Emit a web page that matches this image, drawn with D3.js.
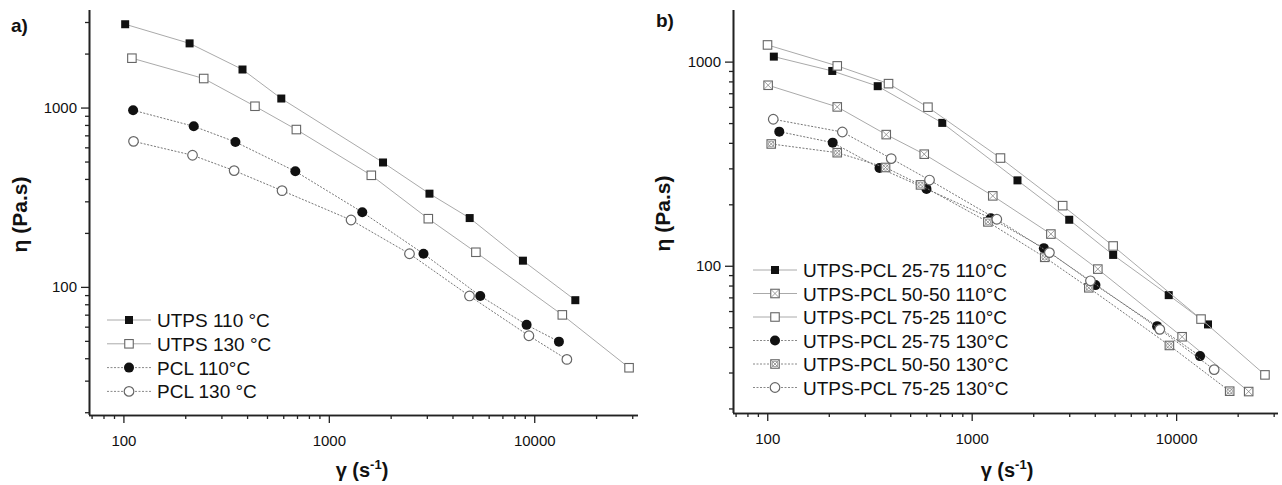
<!DOCTYPE html>
<html>
<head>
<meta charset="utf-8">
<script src="https://cdn.jsdelivr.net/npm/d3@7"></script>
<style>
  body { margin: 0; background: #fff; }
  text { font-family: 'Liberation Sans', Arial, sans-serif; fill: #111; }
</style>
</head>
<body>
<script>
// panel a - shear rate (1/s) and viscosity (Pa.s)
const utps110X = [102, 210, 380, 587, 1836, 3090, 4850, 8810, 15850]
const utps110Y = [2915, 2280, 1630, 1123, 494, 331, 242, 140, 84.3]
const utps130X = [110, 246, 437, 695, 1610, 3050, 5200, 13700, 28950]
const utps130Y = [1885, 1452, 1017, 754, 419, 240, 156, 69.8, 35.4]
const pcl110X = [111.5, 220, 351, 687, 1455, 2890, 5460, 9180, 13190]
const pcl110Y = [966, 786, 643, 441, 261, 153, 89, 61.4, 49.5]
const pcl130X = [112, 217, 346, 592, 1283, 2470, 4840, 9420, 14420]
const pcl130Y = [648, 542, 445, 344, 236, 153, 89, 53.4, 39.4]

// panel b - blends
const b2575_110X = [107.7, 208, 347, 718, 1675, 3000, 4920, 9200, 14320]
const b2575_110Y = [1058, 900, 758, 501, 262, 168, 113, 71.8, 51.6]
const b5050_110X = [101, 220, 382, 586, 1268, 2440, 4140, 10700, 22640]
const b5050_110Y = [766, 600, 439, 352, 220, 143, 96.3, 44.9, 24.2]
const b7525_110X = [100.3, 220, 392, 611, 1383, 2787, 4920, 13240, 27200]
const b7525_110Y = [1207, 953, 780, 598, 337, 197, 125, 54.8, 29.2]
const b2575_130X = [114.5, 209, 354, 601, 1240, 2254, 4030, 8070, 13090]
const b2575_130Y = [454, 401, 301, 238, 171, 122, 80.4, 50.6, 36.1]
const b5050_130X = [104.6, 220, 379, 562, 1200, 2277, 3740, 9270, 18280]
const b5050_130Y = [395, 358, 303, 249, 164, 110, 78, 40.7, 24.3]
const b7525_130X = [107, 233, 404, 622, 1327, 2400, 3810, 8320, 15350]
const b7525_130Y = [522, 452, 335, 263, 169, 116, 84.4, 48.8, 31]

const legendA = ['UTPS 110 °C', 'UTPS 130 °C', 'PCL 110°C', 'PCL 130 °C']
const legendB = ['UTPS-PCL 25-75 110°C', 'UTPS-PCL 50-50 110°C', 'UTPS-PCL 75-25 110°C',
  'UTPS-PCL 25-75 130°C', 'UTPS-PCL 50-50 130°C', 'UTPS-PCL 75-25 130°C']

const seriesA = [
  { x: utps110X, y: utps110Y, m: 'sqFill', dash: false },
  { x: utps130X, y: utps130Y, m: 'sqOpen', dash: false },
  { x: pcl110X, y: pcl110Y, m: 'ciFill', dash: true },
  { x: pcl130X, y: pcl130Y, m: 'ciOpen', dash: true }
]
const seriesB = [
  { x: b2575_110X, y: b2575_110Y, m: 'sqFill', dash: false },
  { x: b5050_110X, y: b5050_110Y, m: 'sqX', dash: false },
  { x: b7525_110X, y: b7525_110Y, m: 'sqOpen', dash: false },
  { x: b2575_130X, y: b2575_130Y, m: 'ciFill', dash: true },
  { x: b5050_130X, y: b5050_130Y, m: 'sqXO', dash: true },
  { x: b7525_130X, y: b7525_130Y, m: 'ciOpen', dash: true }
]

const svg = d3.select('body').append('svg')
  .attr('width', 1282)
  .attr('height', 485)

function marker (g, type, cx, cy) {
  const s = 8.5
  if (type === 'sqFill') {
    g.append('rect').attr('x', cx - 4).attr('y', cy - 4).attr('width', 8).attr('height', 8)
      .style('fill', '#111')
  } else if (type === 'sqOpen' || type === 'sqX' || type === 'sqXO') {
    g.append('rect').attr('x', cx - s / 2).attr('y', cy - s / 2).attr('width', s).attr('height', s)
      .style('fill', '#fff').style('stroke', '#666').style('stroke-width', 1.1)
    if (type !== 'sqOpen') {
      const d = s / 2 - 0.6
      g.append('path')
        .attr('d', `M${cx - d},${cy - d}L${cx + d},${cy + d}M${cx - d},${cy + d}L${cx + d},${cy - d}`)
        .style('stroke', '#777').style('stroke-width', 0.7)
    }
    if (type === 'sqXO') {
      g.append('circle').attr('cx', cx).attr('cy', cy).attr('r', 2.8)
        .style('fill', 'none').style('stroke', '#777').style('stroke-width', 0.7)
    }
  } else if (type === 'ciFill') {
    g.append('circle').attr('cx', cx).attr('cy', cy).attr('r', 5)
      .style('fill', '#111')
  } else if (type === 'ciOpen') {
    g.append('circle').attr('cx', cx).attr('cy', cy).attr('r', 4.8)
      .style('fill', '#fff').style('stroke', '#666').style('stroke-width', 1.2)
  }
}

function minorTicks (domain, majors) {
  const out = []
  for (let d = 10; d <= 100000; d *= 10) {
    for (let k = 1; k <= 9; k++) {
      const v = k * d
      if (v >= domain[0] && v <= domain[1] && !majors.includes(v)) out.push(v)
    }
  }
  return out
}

function panel (opt) {
  const g = svg.append('g')
  const x = d3.scaleLog().domain(opt.xDomain).range(opt.xRange)
  const y = d3.scaleLog().domain(opt.yDomain).range(opt.yRange)
  const x0 = opt.xRange[0]
  const y0 = opt.yRange[0]

  const xMajor = [100, 1000, 10000]
  const yMajor = opt.yMajor

  // x axis
  g.append('g')
    .attr('transform', `translate(0, ${y0})`)
    .call(d3.axisBottom(x).tickValues(minorTicks(opt.xDomain, xMajor)).tickSize(4).tickFormat(''))
  g.append('g')
    .attr('transform', `translate(0, ${y0})`)
    .call(d3.axisBottom(x).tickValues(xMajor).tickSize(8).tickPadding(12).tickFormat(d3.format('d')))

  // y axis
  g.append('g')
    .attr('transform', `translate(${x0}, 0)`)
    .call(d3.axisLeft(y).tickValues(minorTicks(opt.yDomain, yMajor)).tickSize(4).tickFormat(''))
  g.append('g')
    .attr('transform', `translate(${x0}, 0)`)
    .call(d3.axisLeft(y).tickValues(yMajor).tickSize(8).tickPadding(4).tickFormat(d3.format('d')))

  g.selectAll('.domain').style('stroke', '#222').style('stroke-width', 1.6)
  g.selectAll('.tick line').style('stroke', '#222').style('stroke-width', 1.3)
  g.selectAll('.tick text').style('font-size', '15px').style('fill', '#111')
    .style('font-family', "'Liberation Sans', Arial, sans-serif")
  // keep only the axis lines, no end ticks
  g.selectAll('.domain').attr('d', function () {
    return d3.select(this.parentNode).attr('transform').includes(`, ${y0})`)
      ? `M${x0},0.5H${opt.xRange[1]}`
      : `M0.5,${y0}V${opt.yRange[1]}`
  })

  // series
  const line = d3.line()
  opt.series.forEach(s => {
    const pts = s.x.map((v, i) => [x(v), y(s.y[i])])
    g.append('path')
      .attr('d', line(pts))
      .style('fill', 'none')
      .style('stroke', s.dash ? '#777' : '#aaa')
      .style('stroke-width', 1)
      .style('stroke-dasharray', s.dash ? '2,1.5' : null)
    const mg = g.append('g')
    pts.forEach(p => marker(mg, s.m, p[0], p[1]))
  })

  // legend
  opt.legend.forEach((name, i) => {
    const s = opt.series[i]
    const ly = opt.legY + i * opt.legStep
    g.append('line')
      .attr('x1', opt.legX).attr('x2', opt.legX + 44)
      .attr('y1', ly).attr('y2', ly)
      .style('stroke', s.dash ? '#888' : '#aaa')
      .style('stroke-width', 1)
      .style('stroke-dasharray', s.dash ? '2,1.5' : null)
    marker(g, s.m, opt.legX + 22, ly)
    g.append('text')
      .attr('x', opt.legX + 50)
      .attr('y', ly + 7)
      .style('font-size', '19px')
      .text(name)
  })

  // titles
  g.append('text')
    .attr('transform', `translate(${opt.yTitleX}, ${(opt.yRange[0] + opt.yRange[1]) / 2 + 2}) rotate(-90)`)
    .style('text-anchor', 'middle')
    .style('font-size', '21px')
    .style('font-weight', 'bold')
    .text('η (Pa.s)')

  const xt = g.append('text')
    .attr('x', opt.xTitleX)
    .attr('y', 477)
    .style('text-anchor', 'middle')
    .style('font-size', '20px')
    .style('font-weight', 'bold')
  xt.append('tspan').text('γ (s')
  xt.append('tspan').attr('dy', -8).style('font-size', '13px').text('-1')
  xt.append('tspan').attr('dy', 8).text(')')

  g.append('text')
    .attr('x', opt.tagX)
    .attr('y', opt.tagY)
    .style('font-size', '19px')
    .style('font-weight', 'bold')
    .text(opt.tag)
}

panel({
  xDomain: [68, 32000], xRange: [89, 638],
  yDomain: [19.3, 3500], yRange: [415, 10],
  yMajor: [100, 1000],
  series: seriesA, legend: legendA,
  legX: 107, legY: 320, legStep: 23.8,
  yTitleX: 27, xTitleX: 362,
  tag: 'a)', tagX: 11, tagY: 32
})

panel({
  xDomain: [68, 31500], xRange: [733, 1278],
  yDomain: [19, 1790], yRange: [413, 10],
  yMajor: [100, 1000],
  series: seriesB, legend: legendB,
  legX: 753, legY: 270, legStep: 23.5,
  yTitleX: 670, xTitleX: 1007,
  tag: 'b)', tagX: 656, tagY: 27
})
</script>
</body>
</html>
